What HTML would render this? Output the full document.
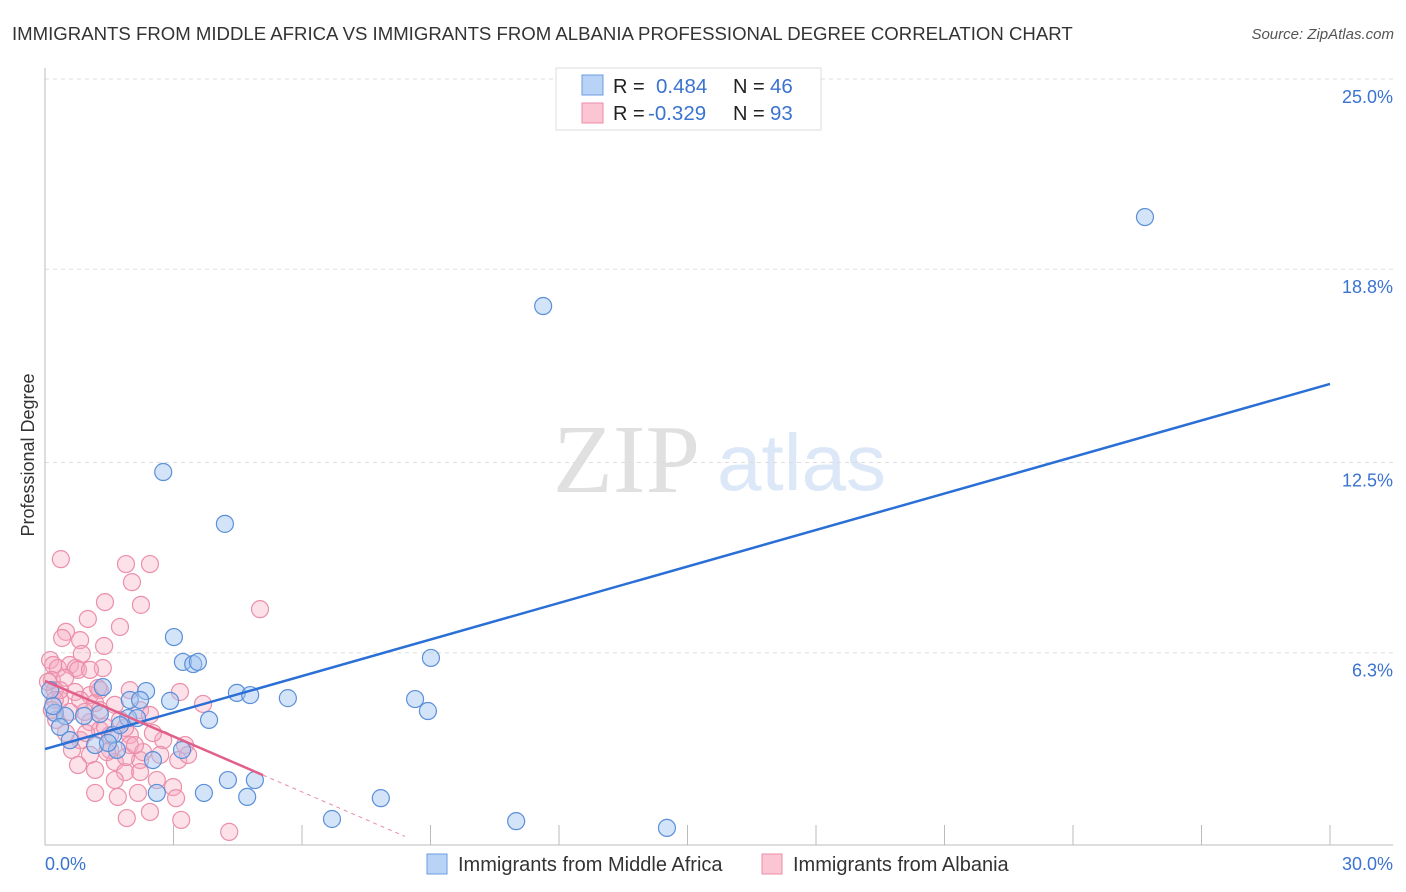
<!DOCTYPE html>
<html><head><meta charset="utf-8"><style>
body{margin:0;background:#fff;font-family:"Liberation Sans",sans-serif;}
svg{display:block}
</style></head><body>
<svg id="chart" width="1406" height="892">
<text x="12" y="40" font-size="18.6" fill="#333">IMMIGRANTS FROM MIDDLE AFRICA VS IMMIGRANTS FROM ALBANIA PROFESSIONAL DEGREE CORRELATION CHART</text>
<text x="1394" y="39" font-size="15" fill="#555" font-style="italic" text-anchor="end">Source: ZipAtlas.com</text>
<g>
<text x="553" y="492" font-family="Liberation Serif,serif" font-size="98" fill="#e0e0e0">ZIP</text>
<text x="717" y="490" font-size="80" fill="#dce8f8">atlas</text>
</g>
<g id="grid"></g>
<g id="axes"></g>
<g id="pink"></g>
<g id="blue"></g>
<g id="lines"></g>
<text transform="translate(34,455) rotate(-90)" font-size="18" fill="#333" text-anchor="middle">Professional Degree</text>
<g>
<rect x="556" y="68" width="265" height="62" fill="#fff" stroke="#ddd"/>
<rect x="582" y="75" width="21" height="20" fill="#b8d3f5" stroke="#6b9be0"/>
<rect x="582" y="103" width="21" height="20" fill="#fbc5d4" stroke="#ec8aa8"/>
<text x="613" y="93" font-size="20" fill="#222">R = </text><text x="656" y="93" font-size="20.5" fill="#3a73d0">0.484</text>
<text x="733" y="93" font-size="20" fill="#222">N = </text><text x="770" y="93" font-size="20.5" fill="#3a73d0">46</text>
<text x="613" y="120" font-size="20" fill="#222">R = </text><text x="648" y="120" font-size="20.5" fill="#3a73d0">-0.329</text>
<text x="733" y="120" font-size="20" fill="#222">N = </text><text x="770" y="120" font-size="20.5" fill="#3a73d0">93</text>
</g>
<g>
<rect x="427" y="854" width="20" height="20" fill="#b8d3f5" stroke="#6b9be0"/>
<text x="458" y="871" font-size="20" fill="#333">Immigrants from Middle Africa</text>
<rect x="762" y="854" width="20" height="20" fill="#fbc5d4" stroke="#ec8aa8"/>
<text x="793" y="871" font-size="20" fill="#333">Immigrants from Albania</text>
</g>
</svg>
<script>
const xTicks=[0,3,6,9,12,15,18,21,24,27,30];
const yTicks=[6.3,12.5,18.8,25.0];
const yTickLabels=["6.3%","12.5%","18.8%","25.0%"];
const xEndLabels=["0.0%","30.0%"];
const blueX=[2.76,4.20,11.63,25.68,3.01,3.22,3.46,3.57,9.01,4.48,4.79,5.67,2.92,8.64,8.94,1.35,2.36,1.98,2.22,3.83,0.23,0.47,0.91,1.94,2.15,0.35,0.58,1.17,1.59,1.68,2.52,3.20,4.27,4.90,2.61,3.71,4.72,7.84,6.70,11.00,14.52,0.12,1.47,0.19,1.28,1.75];
const blueY=[12.19,10.50,17.60,20.50,6.81,6.00,5.93,6.00,6.13,4.99,4.92,4.82,4.73,4.79,4.40,5.18,5.05,4.76,4.76,4.11,4.34,4.24,4.24,4.17,4.17,3.88,3.45,3.29,3.62,3.13,2.80,3.13,2.15,2.15,1.73,1.73,1.60,1.56,0.88,0.81,0.59,5.08,3.36,4.56,4.30,3.94];
const pinkX=[0.37,1.89,2.45,2.03,1.40,2.24,1.00,1.75,0.49,1.38,0.40,0.82,0.86,0.12,0.19,0.30,0.58,0.72,1.35,0.77,1.05,5.02,0.16,0.47,0.23,0.70,1.05,1.28,1.98,3.15,3.69,0.35,0.82,1.17,1.63,2.22,2.76,3.27,2.45,1.75,1.05,1.28,1.52,1.98,0.82,0.63,1.05,1.52,1.98,1.63,2.22,2.69,3.11,3.34,0.77,1.17,1.87,2.22,1.63,2.61,2.99,1.17,1.70,2.17,3.06,1.91,2.45,3.18,4.30,0.26,0.49,1.40,1.87,2.29,1.28,0.93,0.58,0.35,0.23,1.45,1.89,0.96,2.52,2.10,1.24,0.07,0.16];
const pinkY=[9.35,9.19,9.19,8.60,7.95,7.86,7.40,7.14,6.98,6.52,6.78,6.71,6.26,6.06,5.90,5.80,5.90,5.80,5.80,5.74,5.74,7.72,5.41,5.48,5.08,5.02,4.92,5.08,5.08,5.02,4.63,4.76,4.76,4.66,4.60,4.43,3.45,3.29,4.27,4.11,4.04,3.78,3.62,3.62,3.45,3.13,2.97,3.13,3.29,2.74,2.80,2.97,2.80,2.97,2.64,2.48,2.41,2.41,2.15,2.15,1.92,1.73,1.60,1.73,1.56,0.91,1.11,0.85,0.46,4.11,3.68,3.88,3.85,3.06,4.43,4.37,4.37,5.08,4.76,3.06,2.90,3.68,3.68,3.29,5.15,5.35,4.43];
const blueTrend=[3.16,15.06];
const pinkTrend=[5.38,-0.603];
const pinkSolidEnd=5.09, pinkDashEnd=8.4;

const NS="http://www.w3.org/2000/svg";
const X0=45,X1=1330,Y0=846,PPY=30.68;
const sx=v=>X0+(v/30)*(X1-X0);
const sy=v=>Y0-v*PPY;
function mk(tag,parent,attrs){const e=document.createElementNS(NS,tag);for(const k in attrs)e.setAttribute(k,attrs[k]);document.getElementById(parent).appendChild(e);return e;}

let t=mk('line','grid',{x1:45,x2:1393,y1:79,y2:79,stroke:'#ddd','stroke-dasharray':'4,4'});


yTicks.forEach((v,i)=>{
 const g=mk('line','grid',{x1:45,x2:1393,y1:sy(v),y2:sy(v),stroke:'#ddd','stroke-dasharray':'4,4'});
 
 
 const l=mk('text','axes',{x:1393,y:sy(v)+24,'font-size':18,fill:'#3a73d0','text-anchor':'end'});
 l.textContent=yTickLabels[i];
 
 
});
let a=mk('line','axes',{x1:45,x2:45,y1:68,y2:845,stroke:'#bbb'});


a=mk('line','axes',{x1:45,x2:1393,y1:845,y2:845,stroke:'#bbb'});


xTicks.forEach(v=>{
 const k=mk('line','axes',{x1:sx(v),x2:sx(v),y1:825,y2:845,stroke:'#bbb'});
 
 
});
[[0,'start',45],[30,'end',1393]].forEach((p,i)=>{
 const l=mk('text','axes',{x:p[2],y:870,'font-size':18,fill:'#3a73d0','text-anchor':p[1]});
 l.textContent=xEndLabels[i];
 
 
});
pinkX.forEach((v,i)=>{
 const c=mk('circle','pink',{cx:sx(v),cy:sy(pinkY[i]),r:8.5,fill:'rgba(246,170,192,0.35)',stroke:'#eb8fab','stroke-width':1.2});
 
 
});
blueX.forEach((v,i)=>{
 const c=mk('circle','blue',{cx:sx(v),cy:sy(blueY[i]),r:8.5,fill:'rgba(160,196,240,0.45)',stroke:'#5b8fd9','stroke-width':1.2});
 
 
});
let ln=mk('line','lines',{x1:sx(0),y1:sy(blueTrend[0]),x2:sx(30),y2:sy(blueTrend[1]),stroke:'#2a6fd6','stroke-width':2.5});


const py=x=>pinkTrend[0]+pinkTrend[1]*x;
ln=mk('line','lines',{x1:sx(0),y1:sy(py(0)),x2:sx(pinkSolidEnd),y2:sy(py(pinkSolidEnd)),stroke:'#e0608a','stroke-width':2.5});


ln=mk('line','lines',{x1:sx(pinkSolidEnd),y1:sy(py(pinkSolidEnd)),x2:sx(pinkDashEnd),y2:sy(py(pinkDashEnd)),stroke:'#e88aa8','stroke-width':1,'stroke-dasharray':'4,4'});


</script>
</body></html>
